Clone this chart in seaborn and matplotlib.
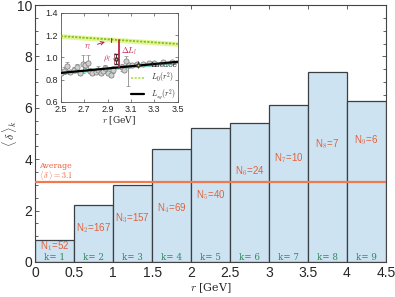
import numpy as np
import pandas as pd
import matplotlib
matplotlib.use("Agg")
import matplotlib.pyplot as plt
import seaborn as sns

# ---------------- data ----------------
bin_edges = [0, 0.5, 1.0, 1.5, 2.0, 2.5, 3.0, 3.5, 4.0, 4.5]
bin_centers = [0.25, 0.75, 1.25, 1.75, 2.25, 2.75, 3.25, 3.75, 4.25]
delta_k = [0.85, 2.2, 3.0, 4.4, 5.2, 5.4, 6.1, 7.4, 6.25]
counts = [52, 167, 157, 69, 40, 24, 10, 7, 6]
k_labels = [1, 2, 3, 4, 5, 6, 7, 8, 9]
n_label_y = [0.6, 1.3, 1.7, 2.1, 2.6, 3.55, 4.05, 4.6, 4.75]
average = 3.1

# inset data
lat_r = [2.50, 2.53, 2.55, 2.58, 2.61, 2.64, 2.66, 2.69, 2.71, 2.73, 2.75,
         2.77, 2.80, 2.82, 2.84, 2.86, 2.88, 2.90, 2.93, 2.95, 3.02, 3.04,
         3.06, 3.08, 3.11, 3.15, 3.20, 3.25, 3.30, 3.37, 3.45]
lat_v = [0.86, 0.88, 0.92, 0.87, 0.89, 0.91, 0.86, 0.94, 0.93, 0.95, 0.88,
         0.86, 0.87, 0.89, 0.86, 0.88, 0.90, 0.86, 0.84, 0.89, 0.91, 0.89,
         0.97, 0.93, 0.93, 0.94, 0.94, 0.95, 0.95, 0.96, 0.96]
lat_e = [0.02, 0.03, 0.04, 0.02, 0.02, 0.03, 0.02, 0.08, 0.03, 0.07, 0.02,
         0.02, 0.02, 0.03, 0.02, 0.02, 0.03, 0.02, 0.02, 0.03, 0.03, 0.02,
         0.04, 0.02, 0.02, 0.01, 0.01, 0.01, 0.01, 0.01, 0.01]
line_r = [2.5, 3.5]
L0_vals = [1.19, 1.12]
Lsg_vals = [0.86, 0.96]
l_point_r = [2.97]
l_point_v = [0.985]

# ---------------- style ----------------
sns.set_theme(style="ticks")
plt.rcParams["font.family"] = ["Liberation Sans", "DejaVu Sans"]
plt.rcParams["mathtext.fontset"] = "cm"

fig = plt.figure(figsize=(3.95, 2.97), dpi=100)
ax = fig.add_axes([0.089, 0.118, 0.888, 0.865])

bar_df = pd.DataFrame({"r": bin_centers, "delta": delta_k})
sns.barplot(data=bar_df, x="r", y="delta", native_scale=True, width=1.0,
            color="#cde3f1", saturation=1, edgecolor="#3a3f44", linewidth=0.9,
            ax=ax)

ax.axhline(average, color="#f07a4e", lw=1.6, zorder=5)
ax.text(0.05, 3.75, "Average", fontsize=5.7, color="#e8643c",
        family="DejaVu Serif", va="center")
ax.text(0.05, 3.38, r"$\langle\,\delta\,\rangle = 3.1$", fontsize=5.7,
        color="#e8643c", va="center")

for c, n, yl, k in zip(bin_centers, counts, n_label_y, k_labels):
    ax.text(c, yl, rf"N$_{{{k}}}$={n}", fontsize=7, color="#e2603a",
            ha="center", va="center", zorder=6)
    ax.text(c, 0.17, f"k= {k}", fontsize=6.3, color="#2f8a5a",
            ha="center", va="center", family="DejaVu Serif", zorder=6)

ax.set_xlim(0, 4.5)
ax.set_ylim(0, 10)
ax.set_xticks(bin_edges)
ax.set_xticklabels(["0", "0.5", "1", "1.5", "2", "2.5", "3", "3.5", "4", "4.5"])
ax.set_yticks([0, 2, 4, 6, 8, 10])
ax.set_yticks(np.arange(0, 10.01, 0.5), minor=True)
ax.tick_params(axis="both", which="both", direction="in", top=True,
               right=True, labelsize=10, length=3, width=0.6, color="#444444")
ax.tick_params(axis="both", which="minor", length=2)
ax.tick_params(axis="y", pad=2)
ax.tick_params(axis="x", pad=3)
for s in ax.spines.values():
    s.set_linewidth(0.8)
    s.set_color("#444444")
ax.set_xlabel(r"$r$ [GeV]", family="DejaVu Serif", fontsize=8, labelpad=1)
ax.set_ylabel(r"$\langle\,\delta\,\rangle_k$", fontsize=8.5)
ax.yaxis.set_label_coords(-0.045, 0.5)

# ---------------- inset ----------------
bg = plt.Rectangle((0.114, 0.58), 0.352, 0.40, transform=fig.transFigure,
                   facecolor="white", edgecolor="none", zorder=2)
fig.patches.append(bg)
ins = fig.add_axes([0.154, 0.657, 0.296, 0.30])
ins.set_zorder(3)

r_arr = np.array(line_r)
L0 = np.array(L0_vals)
Lsg = np.array(Lsg_vals)
ins.fill_between(r_arr, L0 - 0.022, L0 + 0.022, color="#e6f59a", lw=0)
ins.fill_between(r_arr, Lsg - 0.014, Lsg + 0.014, color="#4fe6c8", lw=0)

ins.errorbar(lat_r, lat_v, yerr=lat_e, fmt="none", ecolor="#8a8a8a",
             elinewidth=0.6, capsize=1.2, capthick=0.5, zorder=3)
ins.errorbar([3.075], [0.86], yerr=[[0.12], [0.06]], fmt="none",
             ecolor="#8a8a8a", elinewidth=0.6, capsize=1.2, capthick=0.5)
sns.scatterplot(x=lat_r, y=lat_v, ax=ins, s=14, color="#cfcfcf",
                edgecolor="#7a7a7a", linewidth=0.5, zorder=4)

sns.lineplot(x=line_r, y=L0_vals, ax=ins, color="#7cc21c", lw=1.3,
             linestyle=(0, (1.2, 0.8)), zorder=5)
sns.lineplot(x=line_r, y=Lsg_vals, ax=ins, color="black", lw=1.6, zorder=5)

ins.plot([3.0, 3.0], [0.915, 1.155], color="#c2204a", lw=1.3, zorder=6)
ins.text(3.015, 1.03, r"$\mathbf{\Delta} L_l$", color="#c2204a", fontsize=6)
ins.errorbar(l_point_r, l_point_v, yerr=0.045, fmt="o", ms=2.2,
             color="#b08a00", mfc="#e8c020", mec="#333333", ecolor="#333333",
             elinewidth=0.7, capsize=1.2, zorder=6)
ins.text(2.86, 0.985, r"$\rho_l$", color="#c2204a", fontsize=6, va="center")
ins.text(2.925, 0.985, r"$\{$", color="#c2204a", fontsize=6, va="center")
ins.annotate(r"$r_l$", xy=(2.9, 1.145), xytext=(2.7, 1.08),
             color="#c2204a", fontsize=6,
             arrowprops=dict(arrowstyle="->", color="#c2204a", lw=0.7))
ins.plot([2.93, 2.93], [1.14, 1.17], color="#c2204a", lw=0.8, zorder=6)

# legend
h_lat = ins.errorbar([], [], yerr=[], fmt="o", ms=2.2, mfc="#e8c020",
                     mec="#333333", ecolor="#333333", color="#333333",
                     elinewidth=0.7)
h_l0, = ins.plot([], [], color="#b6e05a", lw=1.3, linestyle=(0, (1.2, 0.8)))
h_sg, = ins.plot([], [], color="black", lw=1.6)
ins.legend([h_lat, h_l0, h_sg],
           ["Lattice", r"$L_0(r^2)$", r"$L_{sg}(r^2)$"],
           loc="lower right", frameon=False,
           prop={"family": "DejaVu Serif", "size": 5.5},
           handlelength=1.8, borderaxespad=0.1, labelspacing=0.2,
           bbox_to_anchor=(1.03, -0.04))

ins.set_xlim(2.5, 3.5)
ins.set_ylim(0.6, 1.4)
ins.set_xticks([2.5, 2.7, 2.9, 3.1, 3.3, 3.5])
ins.set_xticklabels(["2.5", "2.7", "2.9", "3.1", "3.3", "3.5"])
ins.set_yticks([0.6, 0.8, 1.0, 1.2, 1.4])
ins.set_yticklabels(["0.6", "0.8", "1.0", "1.2", "1.4"])
ins.tick_params(labelsize=6.5, direction="in", length=2, width=0.5, pad=2,
                top=True, right=True, color="#555555")
for s in ins.spines.values():
    s.set_linewidth(0.6)
    s.set_color("#555555")
ins.set_xlabel(r"$r$ [GeV]", family="DejaVu Serif", fontsize=6.5, labelpad=0.5)
ins.set_ylabel("")

fig.savefig("out.png", dpi=100)
